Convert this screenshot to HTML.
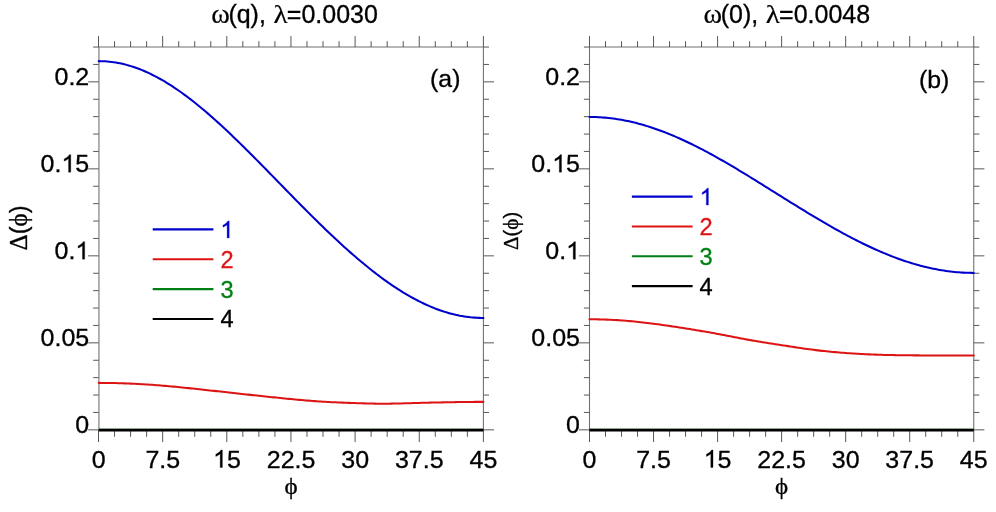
<!DOCTYPE html>
<html><head><meta charset="utf-8"><title>chart</title>
<style>
html,body{margin:0;padding:0;background:#fff;}
body{width:996px;height:512px;overflow:hidden;font-family:"Liberation Sans",sans-serif;}
svg text{white-space:pre;stroke-width:0.32px;paint-order:stroke fill;}
svg{will-change:transform;transform:translateZ(0);}
</style></head><body>
<svg width="996" height="512" viewBox="0 0 996 512" style="display:block">
<rect x="0" y="0" width="996" height="512" fill="#ffffff"/>
<g stroke="#707070" stroke-width="1.08" fill="none">
<path d="M98.95 47.05V429.85M483.4 47.05V429.85M98.95 47.05H483.4M98.95 429.85H483.4"/>
</g>
<g stroke="#585858" stroke-width="1" fill="none">
<line x1="98.50" y1="429.85" x2="98.50" y2="442.05"/>
<line x1="98.50" y1="47.05" x2="98.50" y2="36.05"/>
<line x1="114.54" y1="429.85" x2="114.54" y2="436.75"/>
<line x1="114.54" y1="47.05" x2="114.54" y2="41.15"/>
<line x1="130.57" y1="429.85" x2="130.57" y2="436.75"/>
<line x1="130.57" y1="47.05" x2="130.57" y2="41.15"/>
<line x1="146.61" y1="429.85" x2="146.61" y2="436.75"/>
<line x1="146.61" y1="47.05" x2="146.61" y2="41.15"/>
<line x1="162.65" y1="429.85" x2="162.65" y2="442.05"/>
<line x1="162.65" y1="47.05" x2="162.65" y2="36.05"/>
<line x1="178.69" y1="429.85" x2="178.69" y2="436.75"/>
<line x1="178.69" y1="47.05" x2="178.69" y2="41.15"/>
<line x1="194.72" y1="429.85" x2="194.72" y2="436.75"/>
<line x1="194.72" y1="47.05" x2="194.72" y2="41.15"/>
<line x1="210.76" y1="429.85" x2="210.76" y2="436.75"/>
<line x1="210.76" y1="47.05" x2="210.76" y2="41.15"/>
<line x1="226.80" y1="429.85" x2="226.80" y2="442.05"/>
<line x1="226.80" y1="47.05" x2="226.80" y2="36.05"/>
<line x1="242.84" y1="429.85" x2="242.84" y2="436.75"/>
<line x1="242.84" y1="47.05" x2="242.84" y2="41.15"/>
<line x1="258.88" y1="429.85" x2="258.88" y2="436.75"/>
<line x1="258.88" y1="47.05" x2="258.88" y2="41.15"/>
<line x1="274.91" y1="429.85" x2="274.91" y2="436.75"/>
<line x1="274.91" y1="47.05" x2="274.91" y2="41.15"/>
<line x1="290.95" y1="429.85" x2="290.95" y2="442.05"/>
<line x1="290.95" y1="47.05" x2="290.95" y2="36.05"/>
<line x1="306.99" y1="429.85" x2="306.99" y2="436.75"/>
<line x1="306.99" y1="47.05" x2="306.99" y2="41.15"/>
<line x1="323.02" y1="429.85" x2="323.02" y2="436.75"/>
<line x1="323.02" y1="47.05" x2="323.02" y2="41.15"/>
<line x1="339.06" y1="429.85" x2="339.06" y2="436.75"/>
<line x1="339.06" y1="47.05" x2="339.06" y2="41.15"/>
<line x1="355.10" y1="429.85" x2="355.10" y2="442.05"/>
<line x1="355.10" y1="47.05" x2="355.10" y2="36.05"/>
<line x1="371.14" y1="429.85" x2="371.14" y2="436.75"/>
<line x1="371.14" y1="47.05" x2="371.14" y2="41.15"/>
<line x1="387.18" y1="429.85" x2="387.18" y2="436.75"/>
<line x1="387.18" y1="47.05" x2="387.18" y2="41.15"/>
<line x1="403.21" y1="429.85" x2="403.21" y2="436.75"/>
<line x1="403.21" y1="47.05" x2="403.21" y2="41.15"/>
<line x1="419.25" y1="429.85" x2="419.25" y2="442.05"/>
<line x1="419.25" y1="47.05" x2="419.25" y2="36.05"/>
<line x1="435.29" y1="429.85" x2="435.29" y2="436.75"/>
<line x1="435.29" y1="47.05" x2="435.29" y2="41.15"/>
<line x1="451.32" y1="429.85" x2="451.32" y2="436.75"/>
<line x1="451.32" y1="47.05" x2="451.32" y2="41.15"/>
<line x1="467.36" y1="429.85" x2="467.36" y2="436.75"/>
<line x1="467.36" y1="47.05" x2="467.36" y2="41.15"/>
<line x1="483.40" y1="429.85" x2="483.40" y2="442.05"/>
<line x1="483.40" y1="47.05" x2="483.40" y2="36.05"/>
<line x1="98.75" y1="429.85" x2="88.15" y2="429.85"/>
<line x1="483.4" y1="429.85" x2="494.00" y2="429.85"/>
<line x1="98.75" y1="412.45" x2="93.15" y2="412.45"/>
<line x1="483.4" y1="412.45" x2="489.00" y2="412.45"/>
<line x1="98.75" y1="395.05" x2="93.15" y2="395.05"/>
<line x1="483.4" y1="395.05" x2="489.00" y2="395.05"/>
<line x1="98.75" y1="377.65" x2="93.15" y2="377.65"/>
<line x1="483.4" y1="377.65" x2="489.00" y2="377.65"/>
<line x1="98.75" y1="360.25" x2="93.15" y2="360.25"/>
<line x1="483.4" y1="360.25" x2="489.00" y2="360.25"/>
<line x1="98.75" y1="342.85" x2="88.15" y2="342.85"/>
<line x1="483.4" y1="342.85" x2="494.00" y2="342.85"/>
<line x1="98.75" y1="325.45" x2="93.15" y2="325.45"/>
<line x1="483.4" y1="325.45" x2="489.00" y2="325.45"/>
<line x1="98.75" y1="308.05" x2="93.15" y2="308.05"/>
<line x1="483.4" y1="308.05" x2="489.00" y2="308.05"/>
<line x1="98.75" y1="290.65" x2="93.15" y2="290.65"/>
<line x1="483.4" y1="290.65" x2="489.00" y2="290.65"/>
<line x1="98.75" y1="273.25" x2="93.15" y2="273.25"/>
<line x1="483.4" y1="273.25" x2="489.00" y2="273.25"/>
<line x1="98.75" y1="255.85" x2="88.15" y2="255.85"/>
<line x1="483.4" y1="255.85" x2="494.00" y2="255.85"/>
<line x1="98.75" y1="238.45" x2="93.15" y2="238.45"/>
<line x1="483.4" y1="238.45" x2="489.00" y2="238.45"/>
<line x1="98.75" y1="221.05" x2="93.15" y2="221.05"/>
<line x1="483.4" y1="221.05" x2="489.00" y2="221.05"/>
<line x1="98.75" y1="203.65" x2="93.15" y2="203.65"/>
<line x1="483.4" y1="203.65" x2="489.00" y2="203.65"/>
<line x1="98.75" y1="186.25" x2="93.15" y2="186.25"/>
<line x1="483.4" y1="186.25" x2="489.00" y2="186.25"/>
<line x1="98.75" y1="168.85" x2="88.15" y2="168.85"/>
<line x1="483.4" y1="168.85" x2="494.00" y2="168.85"/>
<line x1="98.75" y1="151.45" x2="93.15" y2="151.45"/>
<line x1="483.4" y1="151.45" x2="489.00" y2="151.45"/>
<line x1="98.75" y1="134.05" x2="93.15" y2="134.05"/>
<line x1="483.4" y1="134.05" x2="489.00" y2="134.05"/>
<line x1="98.75" y1="116.65" x2="93.15" y2="116.65"/>
<line x1="483.4" y1="116.65" x2="489.00" y2="116.65"/>
<line x1="98.75" y1="99.25" x2="93.15" y2="99.25"/>
<line x1="483.4" y1="99.25" x2="489.00" y2="99.25"/>
<line x1="98.75" y1="81.85" x2="88.15" y2="81.85"/>
<line x1="483.4" y1="81.85" x2="494.00" y2="81.85"/>
<line x1="98.75" y1="64.45" x2="93.15" y2="64.45"/>
<line x1="483.4" y1="64.45" x2="489.00" y2="64.45"/>
<line x1="98.75" y1="47.05" x2="93.15" y2="47.05"/>
<line x1="483.4" y1="47.05" x2="489.00" y2="47.05"/>
</g>
<polyline points="98.75,61.14 100.89,61.17 103.02,61.23 105.16,61.34 107.30,61.50 109.43,61.70 111.57,61.94 113.71,62.23 115.85,62.57 117.98,62.94 120.12,63.36 122.26,63.83 124.39,64.33 126.53,64.88 128.67,65.48 130.80,66.11 132.94,66.79 135.08,67.51 137.22,68.27 139.35,69.07 141.49,69.91 143.63,70.80 145.76,71.72 147.90,72.68 150.04,73.68 152.17,74.72 154.31,75.80 156.45,76.91 158.58,78.07 160.72,79.25 162.86,80.48 165.00,81.74 167.13,83.03 169.27,84.36 171.41,85.72 173.54,87.12 175.68,88.55 177.82,90.00 179.95,91.49 182.09,93.01 184.23,94.57 186.36,96.14 188.50,97.75 190.64,99.39 192.78,101.05 194.91,102.74 197.05,104.46 199.19,106.20 201.32,107.96 203.46,109.75 205.60,111.56 207.73,113.40 209.87,115.25 212.01,117.13 214.14,119.02 216.28,120.94 218.42,122.88 220.56,124.83 222.69,126.80 224.83,128.79 226.97,130.79 229.10,132.81 231.24,134.84 233.38,136.89 235.51,138.95 237.65,141.02 239.79,143.11 241.93,145.21 244.06,147.31 246.20,149.43 248.34,151.56 250.47,153.69 252.61,155.84 254.75,157.99 256.88,160.14 259.02,162.31 261.16,164.48 263.29,166.65 265.43,168.83 267.57,171.01 269.71,173.19 271.84,175.38 273.98,177.57 276.12,179.76 278.25,181.95 280.39,184.14 282.53,186.33 284.66,188.52 286.80,190.71 288.94,192.89 291.07,195.07 293.21,197.25 295.35,199.43 297.49,201.60 299.62,203.76 301.76,205.92 303.90,208.08 306.03,210.22 308.17,212.36 310.31,214.49 312.44,216.62 314.58,218.73 316.72,220.84 318.86,222.94 320.99,225.02 323.13,227.10 325.27,229.16 327.40,231.21 329.54,233.25 331.68,235.28 333.81,237.29 335.95,239.29 338.09,241.28 340.22,243.25 342.36,245.21 344.50,247.15 346.64,249.07 348.77,250.98 350.91,252.87 353.05,254.74 355.18,256.59 357.32,258.43 359.46,260.24 361.59,262.04 363.73,263.81 365.87,265.57 368.00,267.30 370.14,269.01 372.28,270.70 374.42,272.37 376.55,274.02 378.69,275.64 380.83,277.23 382.96,278.81 385.10,280.35 387.24,281.88 389.37,283.37 391.51,284.84 393.65,286.29 395.79,287.70 397.92,289.09 400.06,290.45 402.20,291.79 404.33,293.09 406.47,294.36 408.61,295.61 410.74,296.82 412.88,298.01 415.02,299.16 417.15,300.28 419.29,301.38 421.43,302.43 423.57,303.46 425.70,304.45 427.84,305.42 429.98,306.34 432.11,307.24 434.25,308.10 436.39,308.92 438.52,309.71 440.66,310.47 442.80,311.19 444.94,311.88 447.07,312.53 449.21,313.14 451.35,313.72 453.48,314.26 455.62,314.77 457.76,315.23 459.89,315.67 462.03,316.06 464.17,316.42 466.30,316.74 468.44,317.02 470.58,317.27 472.72,317.47 474.85,317.64 476.99,317.78 479.13,317.87 481.26,317.93 483.40,317.95" fill="none" stroke="#0000cd" stroke-width="2.05" stroke-linejoin="round" stroke-linecap="round"/>
<polyline points="98.75,382.89 100.89,382.90 103.02,382.91 105.16,382.92 107.30,382.95 109.43,382.98 111.57,383.01 113.71,383.05 115.85,383.10 117.98,383.16 120.12,383.22 122.26,383.28 124.39,383.36 126.53,383.44 128.67,383.52 130.80,383.61 132.94,383.71 135.08,383.81 137.22,383.92 139.35,384.04 141.49,384.16 143.63,384.28 145.76,384.42 147.90,384.56 150.04,384.70 152.17,384.85 154.31,385.00 156.45,385.16 158.58,385.33 160.72,385.50 162.86,385.68 165.00,385.86 167.13,386.05 169.27,386.24 171.41,386.44 173.54,386.64 175.68,386.84 177.82,387.05 179.95,387.26 182.09,387.48 184.23,387.69 186.36,387.91 188.50,388.13 190.64,388.36 192.78,388.58 194.91,388.81 197.05,389.04 199.19,389.27 201.32,389.49 203.46,389.72 205.60,389.95 207.73,390.19 209.87,390.42 212.01,390.65 214.14,390.88 216.28,391.12 218.42,391.35 220.56,391.58 222.69,391.82 224.83,392.05 226.97,392.29 229.10,392.53 231.24,392.76 233.38,393.00 235.51,393.23 237.65,393.47 239.79,393.70 241.93,393.94 244.06,394.17 246.20,394.41 248.34,394.64 250.47,394.88 252.61,395.11 254.75,395.34 256.88,395.57 259.02,395.80 261.16,396.03 263.29,396.26 265.43,396.48 267.57,396.71 269.71,396.93 271.84,397.15 273.98,397.38 276.12,397.59 278.25,397.81 280.39,398.03 282.53,398.24 284.66,398.45 286.80,398.66 288.94,398.87 291.07,399.08 293.21,399.28 295.35,399.48 297.49,399.68 299.62,399.87 301.76,400.06 303.90,400.25 306.03,400.43 308.17,400.61 310.31,400.78 312.44,400.95 314.58,401.11 316.72,401.26 318.86,401.41 320.99,401.55 323.13,401.69 325.27,401.81 327.40,401.93 329.54,402.05 331.68,402.16 333.81,402.26 335.95,402.35 338.09,402.45 340.22,402.54 342.36,402.62 344.50,402.70 346.64,402.78 348.77,402.86 350.91,402.93 353.05,403.01 355.18,403.08 357.32,403.15 359.46,403.22 361.59,403.29 363.73,403.36 365.87,403.42 368.00,403.48 370.14,403.53 372.28,403.58 374.42,403.62 376.55,403.65 378.69,403.67 380.83,403.69 382.96,403.69 385.10,403.69 387.24,403.67 389.37,403.65 391.51,403.62 393.65,403.59 395.79,403.55 397.92,403.50 400.06,403.45 402.20,403.40 404.33,403.34 406.47,403.28 408.61,403.22 410.74,403.15 412.88,403.09 415.02,403.03 417.15,402.96 419.29,402.90 421.43,402.85 423.57,402.79 425.70,402.73 427.84,402.68 429.98,402.63 432.11,402.58 434.25,402.54 436.39,402.49 438.52,402.45 440.66,402.40 442.80,402.36 444.94,402.32 447.07,402.28 449.21,402.25 451.35,402.21 453.48,402.17 455.62,402.14 457.76,402.10 459.89,402.07 462.03,402.03 464.17,402.00 466.30,401.98 468.44,401.95 470.58,401.93 472.72,401.91 474.85,401.89 476.99,401.88 479.13,401.87 481.26,401.86 483.40,401.86" fill="none" stroke="#dd1414" stroke-width="2.05" stroke-linejoin="round" stroke-linecap="round"/>
<line x1="98.75" y1="429.85" x2="483.4" y2="429.85" stroke="#008014" stroke-width="2.3"/>
<line x1="98.75" y1="430.12" x2="483.4" y2="430.12" stroke="#000000" stroke-width="2.75"/>
<g transform="translate(0 467.50) scale(1 0.975)">
<text x="91.80" y="0.00" font-family="Liberation Sans, sans-serif" font-size="25" fill="#000" stroke="#000">0</text>
</g>
<g transform="translate(0 467.50) scale(1 0.975)">
<text x="145.48" y="0.00" font-family="Liberation Sans, sans-serif" font-size="25" fill="#000" stroke="#000">7.5</text>
</g>
<g transform="translate(0 467.50) scale(1 0.975)">
<path d="M763 0H583V1147Q518 1085 412.5 1023T223 930V1104Q374 1175 487 1276T647 1472H763Z" transform="translate(213.06,0.00) scale(0.012207,-0.012207)" fill="#000" stroke="#000" stroke-width="26.2"/>
<text x="226.97" y="0.00" font-family="Liberation Sans, sans-serif" font-size="25" fill="#000" stroke="#000">5</text>
</g>
<g transform="translate(0 467.50) scale(1 0.975)">
<text x="266.75" y="0.00" font-family="Liberation Sans, sans-serif" font-size="25" fill="#000" stroke="#000">22.5</text>
</g>
<g transform="translate(0 467.50) scale(1 0.975)">
<text x="341.28" y="0.00" font-family="Liberation Sans, sans-serif" font-size="25" fill="#000" stroke="#000">30</text>
</g>
<g transform="translate(0 467.50) scale(1 0.975)">
<text x="394.96" y="0.00" font-family="Liberation Sans, sans-serif" font-size="25" fill="#000" stroke="#000">37.5</text>
</g>
<g transform="translate(0 467.50) scale(1 0.975)">
<text x="469.50" y="0.00" font-family="Liberation Sans, sans-serif" font-size="25" fill="#000" stroke="#000">45</text>
</g>
<g transform="translate(0 433.15) scale(1 0.975)">
<text x="75.35" y="0.00" font-family="Liberation Sans, sans-serif" font-size="25" fill="#000" stroke="#000">0</text>
</g>
<g transform="translate(0 346.15) scale(1 0.975)">
<text x="40.59" y="0.00" font-family="Liberation Sans, sans-serif" font-size="25" fill="#000" stroke="#000">0.05</text>
</g>
<g transform="translate(0 259.15) scale(1 0.975)">
<text x="54.50" y="0.00" font-family="Liberation Sans, sans-serif" font-size="25" fill="#000" stroke="#000">0.</text>
<path d="M763 0H583V1147Q518 1085 412.5 1023T223 930V1104Q374 1175 487 1276T647 1472H763Z" transform="translate(75.35,0.00) scale(0.012207,-0.012207)" fill="#000" stroke="#000" stroke-width="26.2"/>
</g>
<g transform="translate(0 172.15) scale(1 0.975)">
<text x="40.59" y="0.00" font-family="Liberation Sans, sans-serif" font-size="25" fill="#000" stroke="#000">0.</text>
<path d="M763 0H583V1147Q518 1085 412.5 1023T223 930V1104Q374 1175 487 1276T647 1472H763Z" transform="translate(61.44,0.00) scale(0.012207,-0.012207)" fill="#000" stroke="#000" stroke-width="26.2"/>
<text x="75.35" y="0.00" font-family="Liberation Sans, sans-serif" font-size="25" fill="#000" stroke="#000">5</text>
</g>
<g transform="translate(0 85.15) scale(1 0.975)">
<text x="54.50" y="0.00" font-family="Liberation Sans, sans-serif" font-size="25" fill="#000" stroke="#000">0.2</text>
</g>
<g stroke="#707070" stroke-width="1.08" fill="none">
<path d="M589.5 47.05V429.85M973.75 47.05V429.85M589.5 47.05H973.75M589.5 429.85H973.75"/>
</g>
<g stroke="#585858" stroke-width="1" fill="none">
<line x1="589.50" y1="429.85" x2="589.50" y2="442.05"/>
<line x1="589.50" y1="47.05" x2="589.50" y2="36.05"/>
<line x1="605.51" y1="429.85" x2="605.51" y2="436.75"/>
<line x1="605.51" y1="47.05" x2="605.51" y2="41.15"/>
<line x1="621.52" y1="429.85" x2="621.52" y2="436.75"/>
<line x1="621.52" y1="47.05" x2="621.52" y2="41.15"/>
<line x1="637.53" y1="429.85" x2="637.53" y2="436.75"/>
<line x1="637.53" y1="47.05" x2="637.53" y2="41.15"/>
<line x1="653.54" y1="429.85" x2="653.54" y2="442.05"/>
<line x1="653.54" y1="47.05" x2="653.54" y2="36.05"/>
<line x1="669.55" y1="429.85" x2="669.55" y2="436.75"/>
<line x1="669.55" y1="47.05" x2="669.55" y2="41.15"/>
<line x1="685.56" y1="429.85" x2="685.56" y2="436.75"/>
<line x1="685.56" y1="47.05" x2="685.56" y2="41.15"/>
<line x1="701.57" y1="429.85" x2="701.57" y2="436.75"/>
<line x1="701.57" y1="47.05" x2="701.57" y2="41.15"/>
<line x1="717.58" y1="429.85" x2="717.58" y2="442.05"/>
<line x1="717.58" y1="47.05" x2="717.58" y2="36.05"/>
<line x1="733.59" y1="429.85" x2="733.59" y2="436.75"/>
<line x1="733.59" y1="47.05" x2="733.59" y2="41.15"/>
<line x1="749.60" y1="429.85" x2="749.60" y2="436.75"/>
<line x1="749.60" y1="47.05" x2="749.60" y2="41.15"/>
<line x1="765.61" y1="429.85" x2="765.61" y2="436.75"/>
<line x1="765.61" y1="47.05" x2="765.61" y2="41.15"/>
<line x1="781.62" y1="429.85" x2="781.62" y2="442.05"/>
<line x1="781.62" y1="47.05" x2="781.62" y2="36.05"/>
<line x1="797.64" y1="429.85" x2="797.64" y2="436.75"/>
<line x1="797.64" y1="47.05" x2="797.64" y2="41.15"/>
<line x1="813.65" y1="429.85" x2="813.65" y2="436.75"/>
<line x1="813.65" y1="47.05" x2="813.65" y2="41.15"/>
<line x1="829.66" y1="429.85" x2="829.66" y2="436.75"/>
<line x1="829.66" y1="47.05" x2="829.66" y2="41.15"/>
<line x1="845.67" y1="429.85" x2="845.67" y2="442.05"/>
<line x1="845.67" y1="47.05" x2="845.67" y2="36.05"/>
<line x1="861.68" y1="429.85" x2="861.68" y2="436.75"/>
<line x1="861.68" y1="47.05" x2="861.68" y2="41.15"/>
<line x1="877.69" y1="429.85" x2="877.69" y2="436.75"/>
<line x1="877.69" y1="47.05" x2="877.69" y2="41.15"/>
<line x1="893.70" y1="429.85" x2="893.70" y2="436.75"/>
<line x1="893.70" y1="47.05" x2="893.70" y2="41.15"/>
<line x1="909.71" y1="429.85" x2="909.71" y2="442.05"/>
<line x1="909.71" y1="47.05" x2="909.71" y2="36.05"/>
<line x1="925.72" y1="429.85" x2="925.72" y2="436.75"/>
<line x1="925.72" y1="47.05" x2="925.72" y2="41.15"/>
<line x1="941.73" y1="429.85" x2="941.73" y2="436.75"/>
<line x1="941.73" y1="47.05" x2="941.73" y2="41.15"/>
<line x1="957.74" y1="429.85" x2="957.74" y2="436.75"/>
<line x1="957.74" y1="47.05" x2="957.74" y2="41.15"/>
<line x1="973.75" y1="429.85" x2="973.75" y2="442.05"/>
<line x1="973.75" y1="47.05" x2="973.75" y2="36.05"/>
<line x1="589.5" y1="429.85" x2="578.90" y2="429.85"/>
<line x1="973.75" y1="429.85" x2="984.35" y2="429.85"/>
<line x1="589.5" y1="412.45" x2="583.90" y2="412.45"/>
<line x1="973.75" y1="412.45" x2="979.35" y2="412.45"/>
<line x1="589.5" y1="395.05" x2="583.90" y2="395.05"/>
<line x1="973.75" y1="395.05" x2="979.35" y2="395.05"/>
<line x1="589.5" y1="377.65" x2="583.90" y2="377.65"/>
<line x1="973.75" y1="377.65" x2="979.35" y2="377.65"/>
<line x1="589.5" y1="360.25" x2="583.90" y2="360.25"/>
<line x1="973.75" y1="360.25" x2="979.35" y2="360.25"/>
<line x1="589.5" y1="342.85" x2="578.90" y2="342.85"/>
<line x1="973.75" y1="342.85" x2="984.35" y2="342.85"/>
<line x1="589.5" y1="325.45" x2="583.90" y2="325.45"/>
<line x1="973.75" y1="325.45" x2="979.35" y2="325.45"/>
<line x1="589.5" y1="308.05" x2="583.90" y2="308.05"/>
<line x1="973.75" y1="308.05" x2="979.35" y2="308.05"/>
<line x1="589.5" y1="290.65" x2="583.90" y2="290.65"/>
<line x1="973.75" y1="290.65" x2="979.35" y2="290.65"/>
<line x1="589.5" y1="273.25" x2="583.90" y2="273.25"/>
<line x1="973.75" y1="273.25" x2="979.35" y2="273.25"/>
<line x1="589.5" y1="255.85" x2="578.90" y2="255.85"/>
<line x1="973.75" y1="255.85" x2="984.35" y2="255.85"/>
<line x1="589.5" y1="238.45" x2="583.90" y2="238.45"/>
<line x1="973.75" y1="238.45" x2="979.35" y2="238.45"/>
<line x1="589.5" y1="221.05" x2="583.90" y2="221.05"/>
<line x1="973.75" y1="221.05" x2="979.35" y2="221.05"/>
<line x1="589.5" y1="203.65" x2="583.90" y2="203.65"/>
<line x1="973.75" y1="203.65" x2="979.35" y2="203.65"/>
<line x1="589.5" y1="186.25" x2="583.90" y2="186.25"/>
<line x1="973.75" y1="186.25" x2="979.35" y2="186.25"/>
<line x1="589.5" y1="168.85" x2="578.90" y2="168.85"/>
<line x1="973.75" y1="168.85" x2="984.35" y2="168.85"/>
<line x1="589.5" y1="151.45" x2="583.90" y2="151.45"/>
<line x1="973.75" y1="151.45" x2="979.35" y2="151.45"/>
<line x1="589.5" y1="134.05" x2="583.90" y2="134.05"/>
<line x1="973.75" y1="134.05" x2="979.35" y2="134.05"/>
<line x1="589.5" y1="116.65" x2="583.90" y2="116.65"/>
<line x1="973.75" y1="116.65" x2="979.35" y2="116.65"/>
<line x1="589.5" y1="99.25" x2="583.90" y2="99.25"/>
<line x1="973.75" y1="99.25" x2="979.35" y2="99.25"/>
<line x1="589.5" y1="81.85" x2="578.90" y2="81.85"/>
<line x1="973.75" y1="81.85" x2="984.35" y2="81.85"/>
<line x1="589.5" y1="64.45" x2="583.90" y2="64.45"/>
<line x1="973.75" y1="64.45" x2="979.35" y2="64.45"/>
<line x1="589.5" y1="47.05" x2="583.90" y2="47.05"/>
<line x1="973.75" y1="47.05" x2="979.35" y2="47.05"/>
</g>
<polyline points="589.50,116.99 591.63,117.00 593.77,117.04 595.90,117.10 598.04,117.19 600.17,117.31 602.31,117.45 604.44,117.62 606.58,117.81 608.71,118.02 610.85,118.27 612.98,118.53 615.12,118.83 617.25,119.14 619.39,119.49 621.52,119.85 623.66,120.25 625.79,120.66 627.92,121.10 630.06,121.56 632.19,122.05 634.33,122.56 636.46,123.10 638.60,123.66 640.73,124.24 642.87,124.84 645.00,125.46 647.14,126.11 649.27,126.78 651.41,127.47 653.54,128.18 655.68,128.92 657.81,129.67 659.95,130.44 662.08,131.24 664.22,132.05 666.35,132.89 668.48,133.74 670.62,134.61 672.75,135.50 674.89,136.41 677.02,137.33 679.16,138.28 681.29,139.24 683.43,140.21 685.56,141.21 687.70,142.22 689.83,143.24 691.97,144.28 694.10,145.34 696.24,146.41 698.37,147.49 700.51,148.59 702.64,149.70 704.77,150.83 706.91,151.96 709.04,153.11 711.18,154.27 713.31,155.44 715.45,156.63 717.58,157.82 719.72,159.03 721.85,160.24 723.99,161.46 726.12,162.70 728.26,163.94 730.39,165.19 732.53,166.45 734.66,167.71 736.80,168.98 738.93,170.26 741.07,171.55 743.20,172.84 745.33,174.14 747.47,175.44 749.60,176.75 751.74,178.06 753.87,179.38 756.01,180.70 758.14,182.02 760.28,183.35 762.41,184.68 764.55,186.01 766.68,187.34 768.82,188.67 770.95,190.01 773.09,191.35 775.22,192.68 777.36,194.02 779.49,195.36 781.62,196.69 783.76,198.03 785.89,199.36 788.03,200.69 790.16,202.02 792.30,203.35 794.43,204.67 796.57,205.99 798.70,207.31 800.84,208.62 802.97,209.93 805.11,211.23 807.24,212.53 809.38,213.83 811.51,215.12 813.65,216.40 815.78,217.68 817.92,218.95 820.05,220.21 822.18,221.46 824.32,222.71 826.45,223.95 828.59,225.18 830.72,226.40 832.86,227.62 834.99,228.82 837.13,230.01 839.26,231.20 841.40,232.37 843.53,233.53 845.67,234.69 847.80,235.83 849.94,236.96 852.07,238.07 854.21,239.18 856.34,240.27 858.48,241.35 860.61,242.41 862.74,243.47 864.88,244.51 867.01,245.53 869.15,246.54 871.28,247.53 873.42,248.51 875.55,249.48 877.69,250.43 879.82,251.36 881.96,252.27 884.09,253.17 886.23,254.06 888.36,254.92 890.50,255.77 892.63,256.60 894.77,257.41 896.90,258.21 899.03,258.98 901.17,259.74 903.30,260.48 905.44,261.20 907.57,261.90 909.71,262.58 911.84,263.24 913.98,263.88 916.11,264.50 918.25,265.09 920.38,265.67 922.52,266.23 924.65,266.76 926.79,267.28 928.92,267.77 931.06,268.24 933.19,268.69 935.33,269.12 937.46,269.52 939.59,269.91 941.73,270.27 943.86,270.60 946.00,270.92 948.13,271.21 950.27,271.48 952.40,271.72 954.54,271.95 956.67,272.15 958.81,272.32 960.94,272.48 963.08,272.61 965.21,272.71 967.35,272.79 969.48,272.85 971.62,272.89 973.75,272.90" fill="none" stroke="#0000cd" stroke-width="2.05" stroke-linejoin="round" stroke-linecap="round"/>
<polyline points="589.50,319.30 591.63,319.30 593.77,319.32 595.90,319.34 598.04,319.38 600.17,319.42 602.31,319.48 604.44,319.54 606.58,319.62 608.71,319.70 610.85,319.80 612.98,319.90 615.12,320.02 617.25,320.14 619.39,320.28 621.52,320.43 623.66,320.59 625.79,320.75 627.92,320.93 630.06,321.12 632.19,321.32 634.33,321.52 636.46,321.74 638.60,321.96 640.73,322.19 642.87,322.43 645.00,322.68 647.14,322.93 649.27,323.19 651.41,323.46 653.54,323.73 655.68,324.01 657.81,324.30 659.95,324.59 662.08,324.89 664.22,325.19 666.35,325.50 668.48,325.81 670.62,326.13 672.75,326.45 674.89,326.77 677.02,327.10 679.16,327.43 681.29,327.76 683.43,328.09 685.56,328.43 687.70,328.77 689.83,329.11 691.97,329.46 694.10,329.81 696.24,330.16 698.37,330.51 700.51,330.87 702.64,331.23 704.77,331.60 706.91,331.97 709.04,332.34 711.18,332.72 713.31,333.11 715.45,333.50 717.58,333.90 719.72,334.30 721.85,334.70 723.99,335.11 726.12,335.53 728.26,335.94 730.39,336.36 732.53,336.78 734.66,337.19 736.80,337.61 738.93,338.02 741.07,338.43 743.20,338.83 745.33,339.23 747.47,339.62 749.60,340.00 751.74,340.38 753.87,340.75 756.01,341.11 758.14,341.46 760.28,341.81 762.41,342.16 764.55,342.50 766.68,342.83 768.82,343.16 770.95,343.50 773.09,343.82 775.22,344.15 777.36,344.48 779.49,344.81 781.62,345.14 783.76,345.47 785.89,345.80 788.03,346.13 790.16,346.46 792.30,346.79 794.43,347.12 796.57,347.44 798.70,347.76 800.84,348.08 802.97,348.39 805.11,348.70 807.24,349.00 809.38,349.29 811.51,349.58 813.65,349.85 815.78,350.12 817.92,350.38 820.05,350.63 822.18,350.87 824.32,351.10 826.45,351.32 828.59,351.54 830.72,351.74 832.86,351.94 834.99,352.14 837.13,352.32 839.26,352.50 841.40,352.67 843.53,352.84 845.67,353.00 847.80,353.15 849.94,353.30 852.07,353.45 854.21,353.58 856.34,353.71 858.48,353.84 860.61,353.96 862.74,354.07 864.88,354.18 867.01,354.28 869.15,354.38 871.28,354.47 873.42,354.55 875.55,354.63 877.69,354.71 879.82,354.77 881.96,354.84 884.09,354.90 886.23,354.95 888.36,355.00 890.50,355.04 892.63,355.08 894.77,355.12 896.90,355.16 899.03,355.19 901.17,355.22 903.30,355.25 905.44,355.27 907.57,355.29 909.71,355.31 911.84,355.34 913.98,355.36 916.11,355.37 918.25,355.39 920.38,355.41 922.52,355.42 924.65,355.44 926.79,355.45 928.92,355.46 931.06,355.47 933.19,355.48 935.33,355.49 937.46,355.50 939.59,355.50 941.73,355.51 943.86,355.51 946.00,355.51 948.13,355.51 950.27,355.52 952.40,355.52 954.54,355.52 956.67,355.51 958.81,355.51 960.94,355.51 963.08,355.51 965.21,355.51 967.35,355.51 969.48,355.51 971.62,355.51 973.75,355.51" fill="none" stroke="#dd1414" stroke-width="2.05" stroke-linejoin="round" stroke-linecap="round"/>
<line x1="589.5" y1="429.85" x2="973.75" y2="429.85" stroke="#008014" stroke-width="2.3"/>
<line x1="589.5" y1="430.12" x2="973.75" y2="430.12" stroke="#000000" stroke-width="2.75"/>
<g transform="translate(0 467.50) scale(1 0.975)">
<text x="582.55" y="0.00" font-family="Liberation Sans, sans-serif" font-size="25" fill="#000" stroke="#000">0</text>
</g>
<g transform="translate(0 467.50) scale(1 0.975)">
<text x="636.16" y="0.00" font-family="Liberation Sans, sans-serif" font-size="25" fill="#000" stroke="#000">7.5</text>
</g>
<g transform="translate(0 467.50) scale(1 0.975)">
<path d="M763 0H583V1147Q518 1085 412.5 1023T223 930V1104Q374 1175 487 1276T647 1472H763Z" transform="translate(703.68,0.00) scale(0.012207,-0.012207)" fill="#000" stroke="#000" stroke-width="26.2"/>
<text x="717.58" y="0.00" font-family="Liberation Sans, sans-serif" font-size="25" fill="#000" stroke="#000">5</text>
</g>
<g transform="translate(0 467.50) scale(1 0.975)">
<text x="757.30" y="0.00" font-family="Liberation Sans, sans-serif" font-size="25" fill="#000" stroke="#000">22.5</text>
</g>
<g transform="translate(0 467.50) scale(1 0.975)">
<text x="831.76" y="0.00" font-family="Liberation Sans, sans-serif" font-size="25" fill="#000" stroke="#000">30</text>
</g>
<g transform="translate(0 467.50) scale(1 0.975)">
<text x="885.38" y="0.00" font-family="Liberation Sans, sans-serif" font-size="25" fill="#000" stroke="#000">37.5</text>
</g>
<g transform="translate(0 467.50) scale(1 0.975)">
<text x="959.85" y="0.00" font-family="Liberation Sans, sans-serif" font-size="25" fill="#000" stroke="#000">45</text>
</g>
<g transform="translate(0 433.15) scale(1 0.975)">
<text x="566.10" y="0.00" font-family="Liberation Sans, sans-serif" font-size="25" fill="#000" stroke="#000">0</text>
</g>
<g transform="translate(0 346.15) scale(1 0.975)">
<text x="531.34" y="0.00" font-family="Liberation Sans, sans-serif" font-size="25" fill="#000" stroke="#000">0.05</text>
</g>
<g transform="translate(0 259.15) scale(1 0.975)">
<text x="545.25" y="0.00" font-family="Liberation Sans, sans-serif" font-size="25" fill="#000" stroke="#000">0.</text>
<path d="M763 0H583V1147Q518 1085 412.5 1023T223 930V1104Q374 1175 487 1276T647 1472H763Z" transform="translate(566.10,0.00) scale(0.012207,-0.012207)" fill="#000" stroke="#000" stroke-width="26.2"/>
</g>
<g transform="translate(0 172.15) scale(1 0.975)">
<text x="531.34" y="0.00" font-family="Liberation Sans, sans-serif" font-size="25" fill="#000" stroke="#000">0.</text>
<path d="M763 0H583V1147Q518 1085 412.5 1023T223 930V1104Q374 1175 487 1276T647 1472H763Z" transform="translate(552.19,0.00) scale(0.012207,-0.012207)" fill="#000" stroke="#000" stroke-width="26.2"/>
<text x="566.10" y="0.00" font-family="Liberation Sans, sans-serif" font-size="25" fill="#000" stroke="#000">5</text>
</g>
<g transform="translate(0 85.15) scale(1 0.975)">
<text x="545.25" y="0.00" font-family="Liberation Sans, sans-serif" font-size="25" fill="#000" stroke="#000">0.2</text>
</g>
<text transform="translate(211.30,23.4) scale(1.13,1.08)" font-family="Liberation Serif, serif" font-size="25" fill="#000" stroke="#000" style="stroke-width:0.2px">ω</text>
<text x="228.40" y="23.4" font-family="Liberation Sans, sans-serif" font-size="25" fill="#000" stroke="#000">(q),</text>
<text transform="translate(273.40,23.4) scale(1.16,1.0)" font-family="Liberation Serif, serif" font-size="25" fill="#000" stroke="#000" style="stroke-width:0.2px">λ</text>
<text x="286.80" y="23.4" font-family="Liberation Sans, sans-serif" font-size="25" fill="#000" stroke="#000">=0.0030</text>
<text transform="translate(703.60,23.4) scale(1.13,1.08)" font-family="Liberation Serif, serif" font-size="25" fill="#000" stroke="#000" style="stroke-width:0.2px">ω</text>
<text x="720.70" y="23.4" font-family="Liberation Sans, sans-serif" font-size="25" fill="#000" stroke="#000">(0),</text>
<text transform="translate(765.70,23.4) scale(1.16,1.0)" font-family="Liberation Serif, serif" font-size="25" fill="#000" stroke="#000" style="stroke-width:0.2px">λ</text>
<text x="779.10" y="23.4" font-family="Liberation Sans, sans-serif" font-size="25" fill="#000" stroke="#000">=0.0048</text>
<text x="430.1" y="86.5" font-family="Liberation Sans, sans-serif" font-size="24.8" fill="#000" stroke="#000">(a)</text>
<text x="919.0" y="87.8" font-family="Liberation Sans, sans-serif" font-size="24.8" fill="#000" stroke="#000">(b)</text>
<text transform="translate(291.07,494.0) scale(1,0.95)" font-family="Liberation Serif, serif" font-size="25" fill="#000" stroke="#000" text-anchor="middle">ϕ</text>
<text transform="translate(781.62,494.0) scale(1,0.95)" font-family="Liberation Serif, serif" font-size="25" fill="#000" stroke="#000" text-anchor="middle">ϕ</text>
<text transform="translate(27.0,250.4) rotate(-90)" font-family="Liberation Sans, sans-serif" font-size="23.50" fill="#000" stroke="#000"><tspan font-family="Liberation Serif, serif" font-size="25.0">Δ</tspan>(<tspan font-family="Liberation Serif, serif" font-size="25.0">ϕ</tspan>)</text>
<text transform="translate(518.0,250.0) rotate(-90)" font-family="Liberation Sans, sans-serif" font-size="19.93" fill="#000" stroke="#000"><tspan font-family="Liberation Serif, serif" font-size="21.2">Δ</tspan>(<tspan font-family="Liberation Serif, serif" font-size="21.2">ϕ</tspan>)</text>
<line x1="152.7" y1="229.40" x2="213.40" y2="229.40" stroke="#0000cd" stroke-width="2.1"/>
<path d="M763 0H583V1147Q518 1085 412.5 1023T223 930V1104Q374 1175 487 1276T647 1472H763Z" transform="translate(220.40,237.90) scale(0.011523,-0.011523)" fill="#0000cd" stroke="#0000cd" stroke-width="27.8"/>
<line x1="152.7" y1="259.25" x2="213.40" y2="259.25" stroke="#dd1414" stroke-width="2.1"/>
<text x="220.40" y="267.75" font-family="Liberation Sans, sans-serif" font-size="23.6" fill="#dd1414" stroke="#dd1414">2</text>
<line x1="152.7" y1="289.10" x2="213.40" y2="289.10" stroke="#008014" stroke-width="2.1"/>
<text x="220.40" y="297.60" font-family="Liberation Sans, sans-serif" font-size="23.6" fill="#008014" stroke="#008014">3</text>
<line x1="152.7" y1="318.95" x2="213.40" y2="318.95" stroke="#000000" stroke-width="2.1"/>
<text x="220.40" y="327.45" font-family="Liberation Sans, sans-serif" font-size="23.6" fill="#000000" stroke="#000000">4</text>
<line x1="631.9" y1="196.60" x2="692.60" y2="196.60" stroke="#0000cd" stroke-width="2.1"/>
<path d="M763 0H583V1147Q518 1085 412.5 1023T223 930V1104Q374 1175 487 1276T647 1472H763Z" transform="translate(699.60,205.10) scale(0.011523,-0.011523)" fill="#0000cd" stroke="#0000cd" stroke-width="27.8"/>
<line x1="631.9" y1="226.45" x2="692.60" y2="226.45" stroke="#dd1414" stroke-width="2.1"/>
<text x="699.60" y="234.95" font-family="Liberation Sans, sans-serif" font-size="23.6" fill="#dd1414" stroke="#dd1414">2</text>
<line x1="631.9" y1="256.30" x2="692.60" y2="256.30" stroke="#008014" stroke-width="2.1"/>
<text x="699.60" y="264.80" font-family="Liberation Sans, sans-serif" font-size="23.6" fill="#008014" stroke="#008014">3</text>
<line x1="631.9" y1="286.15" x2="692.60" y2="286.15" stroke="#000000" stroke-width="2.1"/>
<text x="699.60" y="294.65" font-family="Liberation Sans, sans-serif" font-size="23.6" fill="#000000" stroke="#000000">4</text>
</svg>
</body></html>
